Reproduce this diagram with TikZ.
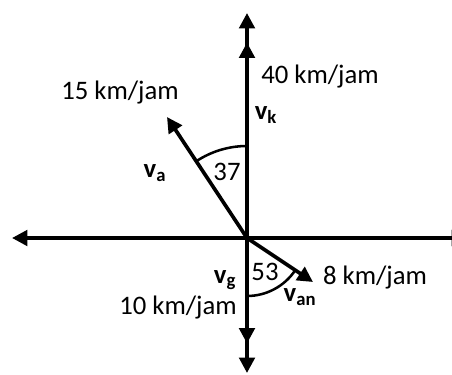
\documentclass[tikz,border=0pt]{standalone}
\usepackage{fontspec}
\setmainfont{Carlito}
\usetikzlibrary{arrows.meta}

\begin{document}
\begin{tikzpicture}[line join=round,
  vec/.style={line width=2.6pt,-{Triangle[length=11pt,width=11pt]}},
  dvec/.style={line width=2.6pt,-{Triangle[length=11pt,width=11pt,sep=10pt]Triangle[length=11pt,width=11pt]}},
  ang/.style={line width=1.8pt},
  lbl/.style={font=\fontsize{19}{22}\selectfont,inner sep=0pt},
  sym/.style={font=\fontsize{19}{22}\selectfont\bfseries,inner sep=0pt}]
  \useasboundingbox (-6.175,-3.4) rectangle (5.125,5.95);
  \coordinate (O) at (0.000,0.000);
  \coordinate (N) at (0.000,5.625);
  \coordinate (S) at (0.000,-3.375);
  \coordinate (W) at (-5.875,0.000);
  \coordinate (E) at (5.500,0.000);
  \coordinate (VA) at (-2.000,3.025);
  \coordinate (VAN) at (1.650,-1.100);
  % axes
  \draw[dvec] (O) -- (N);
  \draw[dvec] (O) -- (S);
  \draw[vec] (O) -- (W);
  \draw[vec] (O) -- (E);
  % vectors
  \draw[vec] (O) -- (VA);
  \draw[vec] (O) -- (VAN);
  % angles
  \draw[ang] (0,2.3) arc[start angle=90,end angle=123.5,radius=2.3];
  \draw[ang] (0,-1.45) arc[start angle=-90,end angle=-33.7,radius=1.45];
  \node[lbl] (a37) at (-0.500,1.650) {37};
  \node[lbl] (a53) at (0.450,-0.850) {53};
  % labels
  \node[lbl] (k40) at (1.825,4.025) {40 km/jam};
  \node[lbl] (k15) at (-3.175,3.625) {15 km/jam};
  \node[lbl] (k10) at (-1.725,-1.750) {10 km/jam};
  \node[lbl] (k8) at (3.200,-1.000) {8 km/jam};
  \node[sym] (vk) at (0.475,3.075) {v\textsubscript{k}};
  \node[sym] (va) at (-2.300,1.625) {v\textsubscript{a}};
  \node[sym] (vg) at (-0.550,-1.050) {v\textsubscript{g}};
  \node[sym] (van) at (1.325,-1.475) {v\textsubscript{an}};
\end{tikzpicture}
\end{document}
